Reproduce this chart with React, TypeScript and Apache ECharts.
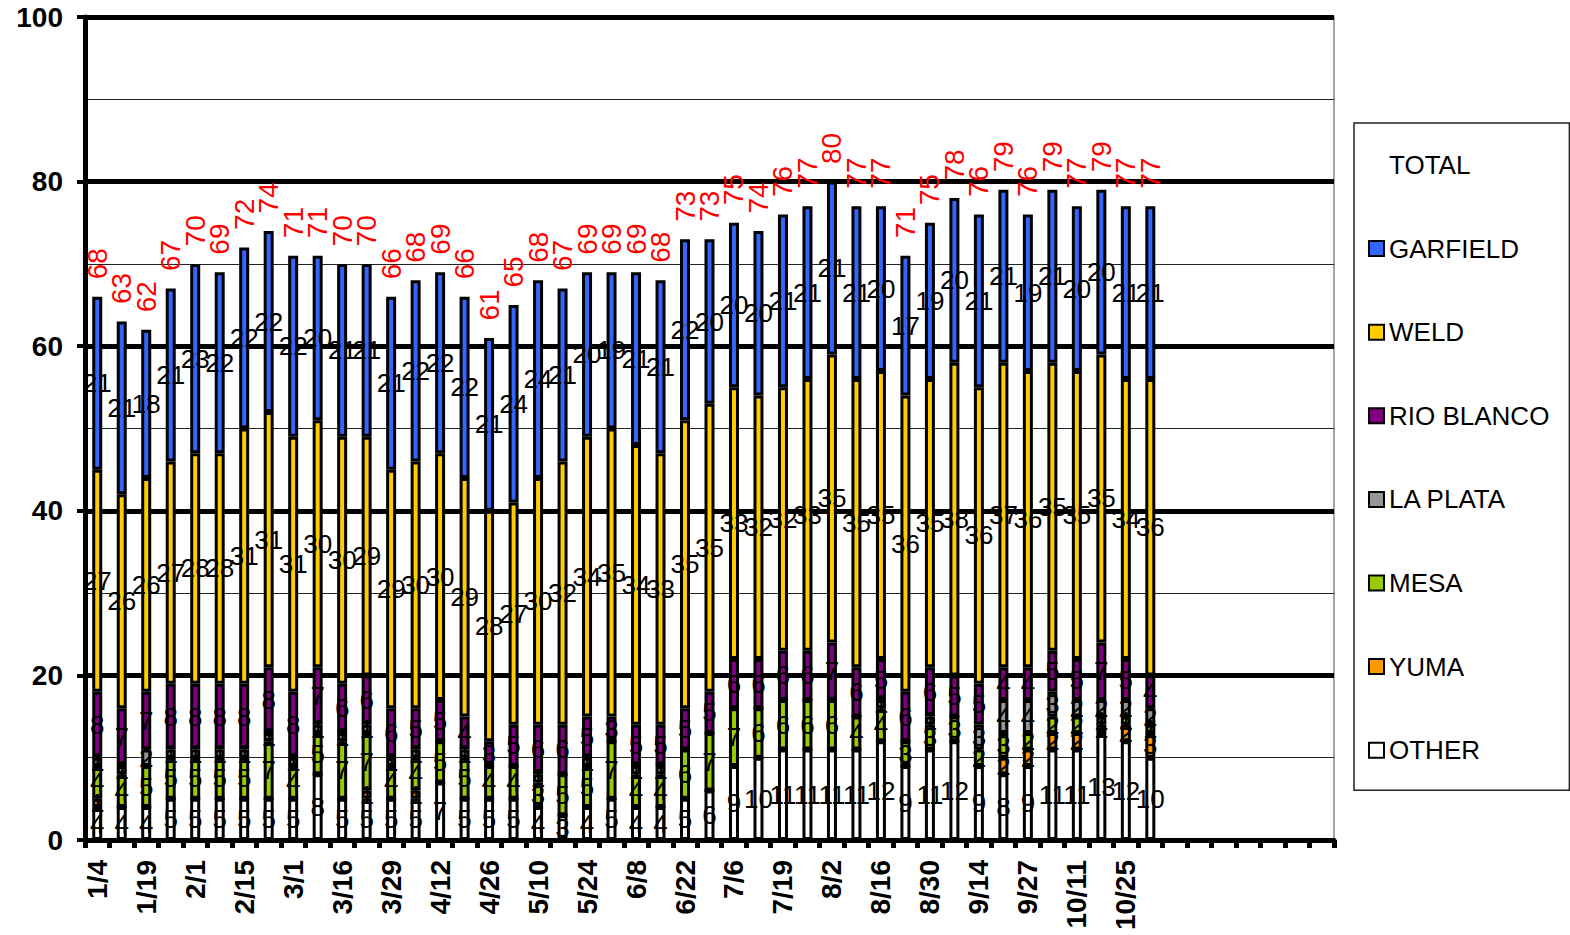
import React, { useEffect, useRef } from "react";
import * as echarts from "echarts";

const FONT = "'Liberation Sans', Arial, sans-serif";

const CATEGORIES = [
  "1/4", "1/11", "1/19", "1/25", "2/1", "2/8", "2/15", "2/22", "3/1", "3/8",
  "3/16", "3/22", "3/29", "4/5", "4/12", "4/19", "4/26", "5/3", "5/10", "5/17",
  "5/24", "5/31", "6/8", "6/15", "6/22", "6/29", "7/6", "7/12", "7/19", "7/26",
  "8/2", "8/9", "8/16", "8/23", "8/30", "9/7", "9/14", "9/21", "9/27", "10/4",
  "10/11", "10/18", "10/25", "11/1", "", "", "", "", "", "", "",
];

const TOTAL = [68, 63, 62, 67, 70, 69, 72, 74, 71, 71, 70, 70, 66, 68, 69, 66, 61, 65, 68, 67, 69, 69, 69, 68, 73, 73, 75, 74, 76, 77, 80, 77, 77, 71, 75, 78, 76, 79, 76, 79, 77, 79, 77, 77];
const GARFIELD = [21, 21, 18, 21, 23, 22, 22, 22, 22, 20, 21, 21, 21, 22, 22, 22, 21, 24, 24, 21, 20, 19, 21, 21, 22, 20, 20, 20, 21, 21, 21, 21, 20, 17, 19, 20, 21, 21, 19, 21, 20, 20, 21, 21];
const WELD = [27, 26, 26, 27, 28, 28, 31, 31, 31, 30, 30, 29, 29, 30, 30, 29, 28, 27, 30, 32, 34, 35, 34, 33, 35, 35, 33, 32, 32, 33, 35, 35, 35, 36, 35, 38, 36, 37, 36, 35, 35, 35, 34, 36];
const RIO_BLANCO = [8, 7, 7, 8, 8, 8, 8, 8, 8, 7, 6, 6, 6, 5, 5, 4, 3, 5, 6, 6, 5, 3, 5, 5, 5, 5, 6, 6, 6, 6, 7, 6, 5, 6, 6, 5, 5, 4, 4, 5, 5, 7, 5, 4];
const LA_PLATA = [1, 1, 2, 1, 1, 1, 1, 1, 1, 1, 1, 1, 1, 1, 0, 1, 0, 0, 1, 0, 1, 0, 1, 1, 0, 0, 0, 0, 0, 0, 0, 0, 1, 0, 1, 0, 3, 4, 4, 3, 2, 2, 2, 2];
const MESA = [4, 4, 5, 5, 5, 5, 5, 7, 4, 5, 7, 7, 4, 4, 5, 5, 4, 4, 3, 5, 5, 7, 4, 4, 6, 7, 7, 6, 6, 6, 6, 4, 4, 3, 3, 3, 2, 3, 2, 2, 2, 1, 1, 1];
const YUMA = [1, 0, 0, 0, 0, 0, 0, 0, 0, 0, 0, 1, 0, 1, 0, 0, 0, 0, 0, 0, 0, 0, 0, 0, 0, 0, 0, 0, 0, 0, 0, 0, 0, 0, 0, 0, 0, 2, 2, 2, 2, 1, 2, 3];
const OTHER = [4, 4, 4, 5, 5, 5, 5, 5, 5, 8, 5, 5, 5, 5, 7, 5, 5, 5, 4, 3, 4, 5, 4, 4, 5, 6, 9, 10, 11, 11, 11, 11, 12, 9, 11, 12, 9, 8, 9, 11, 11, 13, 12, 10];

const LEGEND_ORDER = ["TOTAL", "GARFIELD", "WELD", "RIO BLANCO", "LA PLATA", "MESA", "YUMA", "OTHER"];

export default function App() {
  const ref = useRef<HTMLDivElement>(null);

  useEffect(() => {
    if (!ref.current) return;
    const chart = echarts.init(ref.current, undefined, { renderer: "svg" });

    const segLabel = {
      show: true,
      position: "inside",
      color: "#000",
      fontSize: 26,
      fontFamily: FONT,
      formatter: (p: any) => (p.value ? String(p.value) : ""),
    };

    const stacked = [
      { name: "OTHER", data: OTHER, color: "#FFFFFF" },
      { name: "YUMA", data: YUMA, color: "#FF9900" },
      { name: "MESA", data: MESA, color: "#99CC00" },
      { name: "LA PLATA", data: LA_PLATA, color: "#969696" },
      { name: "RIO BLANCO", data: RIO_BLANCO, color: "#800080" },
      { name: "WELD", data: WELD, color: "#FFCC00" },
      { name: "GARFIELD", data: GARFIELD, color: "#3366FF" },
    ];

    const stackTop = GARFIELD.map((_, i) =>
      stacked.reduce((s, ser) => s + ser.data[i], 0)
    );

    const series: any[] = stacked.map((s) => ({
      name: s.name,
      type: "bar",
      stack: "total",
      barWidth: 10,
      data: s.data,
      itemStyle: { color: s.color, borderColor: "#000", borderWidth: 3 },
      label: segLabel,
    }));

    series.push({
      name: "TOTAL",
      type: "line",
      data: stackTop,
      symbol: "circle",
      symbolSize: 1,
      itemStyle: { color: "rgba(0,0,0,0)" },
      lineStyle: { opacity: 0, width: 0 },
      label: {
        show: true,
        position: "top",
        distance: 17,
        rotate: 90,
        align: "left",
        verticalAlign: "middle",
        color: "#FF0000",
        fontSize: 28,
        fontFamily: FONT,
        formatter: (p: any) => String(TOTAL[p.dataIndex]),
      },
      z: 10,
    });

    chart.setOption({
      animation: false,
      backgroundColor: "#fff",
      textStyle: { fontFamily: FONT },
      grid: {
        left: 85,
        right: 236,
        top: 17,
        bottom: 95,
        show: true,
        borderColor: "#888",
        borderWidth: 1.5,
        containLabel: false,
      },
      legend: {
        orient: "vertical",
        left: 1354,
        top: 123,
        padding: [29, 20, 27, 14],
        itemGap: 57.6,
        itemWidth: 15,
        itemHeight: 15,
        icon: "rect",
        borderColor: "#222",
        borderWidth: 1.5,
        itemStyle: { borderColor: "#000", borderWidth: 2 },
        textStyle: { fontSize: 26, color: "#000", fontFamily: FONT },
        data: LEGEND_ORDER.map((n) =>
          n === "TOTAL"
            ? { name: n, itemStyle: { color: "rgba(0,0,0,0)", borderWidth: 0, opacity: 0 }, lineStyle: { opacity: 0 } }
            : { name: n }
        ),
      },
      xAxis: {
        type: "category",
        data: CATEGORIES,
        boundaryGap: true,
        axisLine: { show: true, lineStyle: { color: "#000", width: 5 } },
        axisTick: { show: true, interval: 0, length: 8, lineStyle: { color: "#000", width: 5 } },
        axisLabel: {
          interval: 1,
          rotate: 90,
          margin: 20,
          fontSize: 28,
          fontWeight: "bold",
          color: "#000",
          fontFamily: FONT,
        },
        splitLine: { show: false },
      },
      yAxis: {
        type: "value",
        min: 0,
        max: 100,
        interval: 20,
        axisLine: { show: true, lineStyle: { color: "#000", width: 5 } },
        axisTick: { show: true, length: 8, lineStyle: { color: "#000", width: 4 } },
        axisLabel: {
          margin: 22,
          fontSize: 28,
          fontWeight: "bold",
          color: "#000",
          fontFamily: FONT,
        },
        splitLine: { show: true, lineStyle: { color: "#000", width: 5 } },
        minorTick: { show: false, splitNumber: 2 },
        minorSplitLine: { show: true, lineStyle: { color: "#222", width: 1 } },
      },
      series,
    });

    return () => chart.dispose();
  }, []);

  return (
    <div
      ref={ref}
      style={{ position: "fixed", left: 0, top: 0, width: 1570, height: 935, background: "#fff" }}
    />
  );
}
